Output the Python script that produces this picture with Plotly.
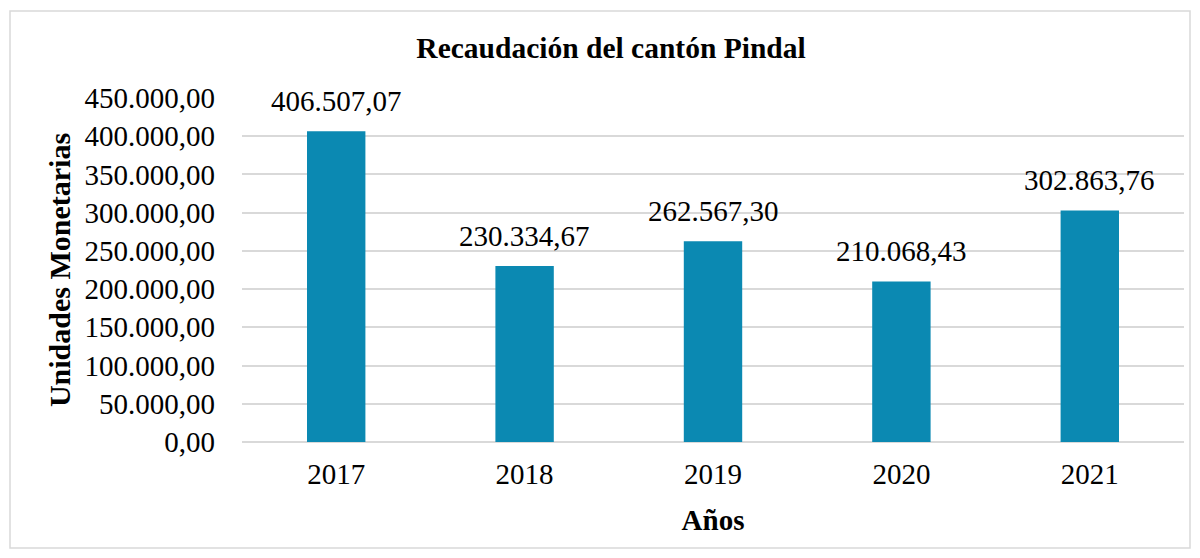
import plotly.graph_objects as go

years = ["2017", "2018", "2019", "2020", "2021"]
values = [406507.07, 230334.67, 262567.30, 210068.43, 302863.76]
y_ticks = [0, 50000, 100000, 150000, 200000, 250000, 300000, 350000, 400000, 450000]

FONT = "Liberation Serif, Times New Roman, serif"

# page body has an 8px default margin; figure sized/placed to compensate
W, H = 1192, 550
L, R, T, B = 234, 16, 90, 116
PW, PH = W - L - R, H - T - B


def fmt(v):
    return f"{v:,.2f}".replace(",", "X").replace(".", ",").replace("X", ".")


fig = go.Figure()
fig.add_trace(go.Bar(
    x=years, y=values,
    marker=dict(color="#0B89B2", line=dict(width=0)),
    width=0.31,
    hoverinfo="x+y",
))

# category axis: annotation x given as category index
for i, v in enumerate(values):
    fig.add_annotation(
        x=i, y=v, text=fmt(v),
        showarrow=False, yanchor="bottom", yshift=12,
        font=dict(family=FONT, size=29, color="#000000"),
    )

fig.update_layout(
    width=W, height=H,
    paper_bgcolor="white", plot_bgcolor="white",
    separators=",.",
    margin=dict(l=L, r=R, t=T, b=B, autoexpand=False),
    showlegend=False,
    title=dict(
        text="<b>Recaudación del cantón Pindal</b>",
        x=603 / W, xref="container", xanchor="center",
        y=1 - 40 / H, yref="container", yanchor="middle",
        font=dict(family=FONT, size=29.5, color="#000000"),
    ),
    font=dict(family=FONT, color="#000000"),
)

fig.update_xaxes(
    type="category", range=[-0.5, 4.5],
    showgrid=False, showline=False, ticks="",
    tickfont=dict(family=FONT, size=29, color="#000000"),
    ticklabelstandoff=12,
    title=dict(text="<b>Años</b>", font=dict(family=FONT, size=29, color="#000000"), standoff=20),
)
fig.update_yaxes(
    range=[0, 450000], tickvals=y_ticks, tickformat=",.2f",
    showgrid=True, gridcolor="#D9D9D9", gridwidth=1.5,
    zeroline=True, zerolinecolor="#D9D9D9", zerolinewidth=1.5,
    showline=False, ticks="",
    tickfont=dict(family=FONT, size=29, color="#000000"),
    ticklabelstandoff=26,
    title=dict(text="<b>Unidades Monetarias</b>", font=dict(family=FONT, size=30, color="#000000"), standoff=5),
)

fig.add_shape(
    type="rect", xref="paper", yref="paper",
    x0=(2 - L) / PW, x1=(1182 - L) / PW,
    y0=(T + PH - 540) / PH, y1=(T + PH - 3) / PH,
    line=dict(color="#D9D9D9", width=1.5), fillcolor="rgba(0,0,0,0)", layer="below",
)

fig.write_html("out.html")
